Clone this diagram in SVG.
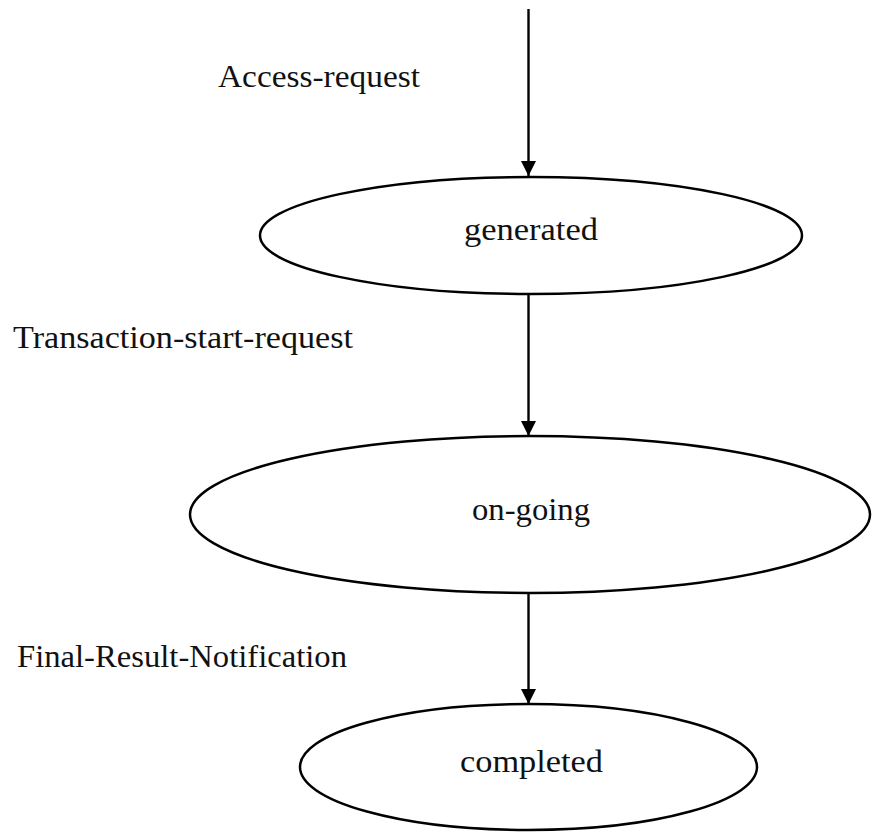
<svg xmlns="http://www.w3.org/2000/svg" width="873" height="834" viewBox="0 0 873 834">
  <style>
    .state { fill: #ffffff; stroke: #000000; stroke-width: 2.5; }
    .edge { stroke: #000000; stroke-width: 2.4; fill: none; marker-end: url(#arrow); }
    .label { font-family: "Liberation Serif", "DejaVu Serif", serif; font-size: 31px; fill: #111111; }
    .name { font-family: "Liberation Serif", "DejaVu Serif", serif; font-size: 31px; fill: #111111; text-anchor: middle; }
  </style>
  <defs>
    <marker id="arrow" viewBox="0 0 15 15" refX="15" refY="7.5" markerWidth="15" markerHeight="15" markerUnits="userSpaceOnUse" orient="auto">
      <path d="M0,0 L15,7.5 L0,15 Z" fill="#000000"/>
    </marker>
  </defs>
  <rect width="873" height="834" fill="#ffffff"/>

  <!-- transitions -->
  <g id="connectors">
    <line class="edge" x1="528.5" y1="9" x2="528.5" y2="176"/>
    <line class="edge" x1="528.5" y1="294" x2="528.5" y2="436"/>
    <line class="edge" x1="528.5" y1="593" x2="528.5" y2="704"/>
    <text class="label" x="218" y="87" textLength="202" lengthAdjust="spacingAndGlyphs">Access-request</text>
    <text class="label" x="13" y="348" textLength="340" lengthAdjust="spacingAndGlyphs">Transaction-start-request</text>
    <text class="label" x="17" y="667" textLength="330" lengthAdjust="spacingAndGlyphs">Final-Result-Notification</text>
  </g>

  <!-- states -->
  <g id="generated">
    <ellipse class="state" cx="531" cy="235.5" rx="271" ry="58.5"/>
    <text class="name" x="531" y="240" textLength="134" lengthAdjust="spacingAndGlyphs">generated</text>
  </g>
  <g id="on-going">
    <ellipse class="state" cx="530" cy="514.5" rx="340" ry="78.5"/>
    <text class="name" x="531" y="520" textLength="118" lengthAdjust="spacingAndGlyphs">on-going</text>
  </g>
  <g id="completed">
    <ellipse class="state" cx="528.5" cy="767" rx="228.5" ry="63"/>
    <text class="name" x="531.5" y="772" textLength="143" lengthAdjust="spacingAndGlyphs">completed</text>
  </g>
</svg>
